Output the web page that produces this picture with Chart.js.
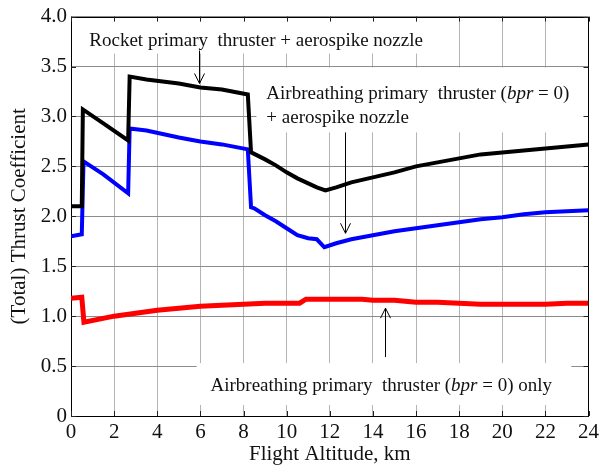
<!DOCTYPE html>
<html><head><meta charset="utf-8">
<script src="https://cdn.jsdelivr.net/npm/chart.js@4"></script>
<style>html,body{margin:0;padding:0;background:#fff}</style>
</head><body>
<canvas id="c" width="603" height="471" style="width:603px;height:471px;display:block"></canvas>
<script>
// ---------- data ----------
const altRocket = [0, 0.5, 0.55, 1.5, 2.65, 2.72, 3.5, 5, 6, 7, 8.2, 8.35, 8.45, 9, 9.5, 10, 10.5, 11, 11.4, 11.8, 12.3, 13, 14, 15, 16, 17, 18, 19, 20, 21, 22, 23, 24];
const cfRocket  = [2.10, 2.10, 3.07, 2.93, 2.76, 3.40, 3.37, 3.33, 3.29, 3.27, 3.22, 2.64, 2.63, 2.57, 2.51, 2.44, 2.38, 2.33, 2.29, 2.26, 2.29, 2.34, 2.39, 2.44, 2.50, 2.54, 2.58, 2.62, 2.64, 2.66, 2.68, 2.70, 2.72];

const altAirSpike = [0, 0.5, 0.58, 1.5, 2.65, 2.72, 3.5, 5, 6, 7, 8.2, 8.35, 8.5, 9, 9.5, 10, 10.5, 11, 11.4, 11.75, 12.3, 13, 14, 15, 16, 17, 18, 19, 20, 21, 22, 23, 24];
const cfAirSpike  = [1.80, 1.82, 2.55, 2.42, 2.23, 2.88, 2.86, 2.79, 2.75, 2.72, 2.67, 2.09, 2.08, 2.01, 1.95, 1.88, 1.81, 1.78, 1.77, 1.69, 1.73, 1.77, 1.81, 1.85, 1.88, 1.91, 1.94, 1.97, 1.99, 2.02, 2.04, 2.05, 2.06];

const altAirOnly = [0, 0.5, 0.6, 2, 3, 4, 5, 6, 7, 8, 9, 10, 10.6, 10.9, 12, 13.5, 14, 15, 15.5, 16, 17, 18, 19, 20, 21, 22, 23, 24];
const cfAirOnly  = [1.18, 1.19, 0.94, 1.00, 1.03, 1.06, 1.08, 1.10, 1.11, 1.12, 1.13, 1.13, 1.13, 1.17, 1.17, 1.17, 1.16, 1.16, 1.15, 1.14, 1.14, 1.13, 1.12, 1.12, 1.12, 1.12, 1.13, 1.13];

const xTickValues = [0, 2, 4, 6, 8, 10, 12, 14, 16, 18, 20, 22, 24];
const yTickValues = [0, 0.5, 1.0, 1.5, 2.0, 2.5, 3.0, 3.5, 4.0];
const xTitle = 'Flight Altitude, km';
const yTitle = '(Total) Thrust Coefficient';

const labelRocket = [['Rocket primary  thruster + aerospike nozzle', false]];
const labelSpike1 = [['Airbreathing primary  thruster (', false], ['bpr', true], [' = 0)', false]];
const labelSpike2 = [['+ aerospike nozzle', false]];
const labelOnly   = [['Airbreathing primary  thruster (', false], ['bpr', true], [' = 0) only', false]];

// ---------- helpers ----------
const FONT = '"Liberation Serif", "Times New Roman", serif';
function pts(xs, ys) { return xs.map((x, i) => ({x: x, y: ys[i]})); }

const annotations = {
  id: 'annot',
  beforeDatasetsDraw(chart) {
    const {ctx, chartArea: a, scales: {x, y}} = chart;
    ctx.save();
    // white text boxes hiding the grid
    ctx.fillStyle = '#fff';
    const box = (x0, x1, y0, y1) => {
      const px0 = x.getPixelForValue(x0), px1 = x.getPixelForValue(x1);
      const py0 = y.getPixelForValue(y0), py1 = y.getPixelForValue(y1);
      ctx.fillRect(px0, py0, px1 - px0, py1 - py0);
    };
    box(0.05, 16.1, 3.99, 3.63);
    box(8.6, 23.95, 3.49, 2.84);
    box(5.83, 23.2, 0.53, 0.11);
    // frame
    ctx.strokeStyle = '#000';
    ctx.lineWidth = 1;
    ctx.strokeRect(Math.round(a.left) + 0.5, Math.round(a.top) + 0.5,
                   Math.round(a.right - a.left) - 1, Math.round(a.bottom - a.top));
    // inward ticks on all sides
    ctx.strokeStyle = '#222';
    ctx.beginPath();
    xTickValues.forEach(v => {
      const px = Math.round(x.getPixelForValue(v)) + 0.5;
      ctx.moveTo(px, a.bottom); ctx.lineTo(px, a.bottom - 5);
      ctx.moveTo(px, a.top); ctx.lineTo(px, a.top + 5);
    });
    yTickValues.forEach(v => {
      const py = Math.round(y.getPixelForValue(v)) + 0.5;
      ctx.moveTo(a.left, py); ctx.lineTo(a.left + 5, py);
      ctx.moveTo(a.right, py); ctx.lineTo(a.right - 5, py);
    });
    ctx.stroke();
    ctx.restore();
  },
  afterDatasetsDraw(chart) {
    const {ctx, scales: {x, y}} = chart;
    ctx.save();
    ctx.fillStyle = '#111';
    ctx.textBaseline = 'alphabetic';
    const rich = (segs, xv, yv) => {
      let px = x.getPixelForValue(xv);
      const py = y.getPixelForValue(yv);
      segs.forEach(([t, it]) => {
        ctx.font = (it ? 'italic ' : '') + '19px ' + FONT;
        ctx.fillText(t, px, py);
        px += ctx.measureText(t).width;
      });
    };
    rich(labelRocket, 0.85, 3.71);
    rich(labelSpike1, 9.06, 3.17);
    rich(labelSpike2, 9.06, 2.93);
    rich(labelOnly, 6.47, 0.25);
    // arrows
    ctx.strokeStyle = '#000';
    ctx.lineWidth = 1;
    const arrow = (xv, y0, y1) => {
      const px = Math.round(x.getPixelForValue(xv)) + 0.5;
      const p0 = y.getPixelForValue(y0), p1 = y.getPixelForValue(y1);
      const dir = p1 > p0 ? 1 : -1;
      ctx.beginPath();
      ctx.moveTo(px, p0); ctx.lineTo(px, p1);
      ctx.moveTo(px - 5, p1 - dir * 10); ctx.lineTo(px, p1); ctx.lineTo(px + 5, p1 - dir * 10);
      ctx.stroke();
    };
    arrow(5.92, 3.66, 3.33);
    arrow(12.72, 2.84, 1.83);
    arrow(14.58, 0.59, 1.08);
    ctx.restore();
  }
};

new Chart(document.getElementById('c'), {
  type: 'line',
  data: {
    datasets: [
      {data: pts(altRocket, cfRocket), borderColor: '#000000', borderWidth: 4},
      {data: pts(altAirSpike, cfAirSpike), borderColor: '#0000ff', borderWidth: 4},
      {data: pts(altAirOnly, cfAirOnly), borderColor: '#ff0000', borderWidth: 5}
    ]
  },
  options: {
    responsive: false,
    animation: false,
    devicePixelRatio: 1,
    layout: {padding: {top: 16, right: 11, left: 0, bottom: 0}},
    elements: {
      point: {radius: 0},
      line: {tension: 0, fill: false, borderJoinStyle: 'miter', borderCapStyle: 'butt'}
    },
    plugins: {legend: {display: false}, tooltip: {enabled: false}},
    scales: {
      x: {
        type: 'linear', min: 0, max: 24,
        afterBuildTicks: s => { s.ticks = xTickValues.map(v => ({value: v})); },
        afterFit: s => { s.height = 55; },
        grid: {color: '#b4b4b4', lineWidth: 1, drawTicks: false},
        border: {display: false},
        ticks: {padding: 4, color: '#111', font: {family: FONT, size: 21}, maxRotation: 0,
                callback: v => String(v)},
        title: {display: true, text: xTitle, color: '#111', font: {family: FONT, size: 21},
                padding: {top: 0, bottom: 4}}
      },
      y: {
        type: 'linear', min: 0, max: 4,
        afterBuildTicks: s => { s.ticks = yTickValues.map(v => ({value: v})); },
        afterFit: s => { s.width = 71; },
        grid: {color: '#8c8c8c', lineWidth: 1, drawTicks: false},
        border: {display: false},
        ticks: {padding: 4, color: '#111', font: {family: FONT, size: 21},
                callback: v => (v === 0 ? '0' : v.toFixed(1))},
        title: {display: true, text: yTitle, color: '#111', font: {family: FONT, size: 21},
                padding: {top: 7, bottom: 0}}
      }
    }
  },
  plugins: [annotations]
});
</script>
</body></html>
